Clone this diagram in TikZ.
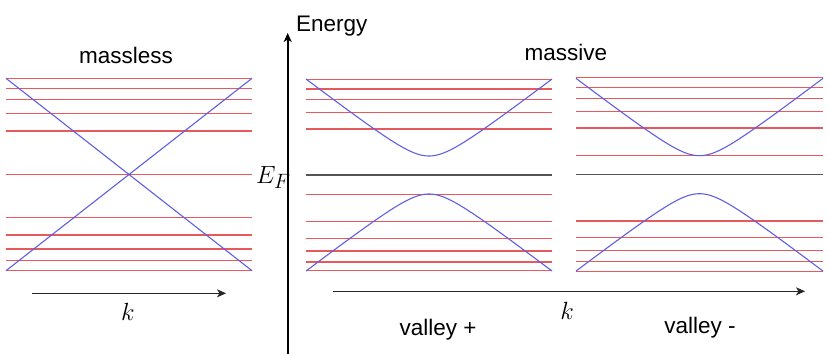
\documentclass[tikz,border=0pt]{standalone}
\usepackage{fontspec}
\setmainfont{Liberation Sans}
\usetikzlibrary{arrows.meta}
\definecolor{bandred}{RGB}{232,88,92}
\definecolor{dispblue}{RGB}{95,95,225}
\definecolor{fermigray}{RGB}{85,85,85}
\begin{document}
\begin{tikzpicture}[x=1pt,y=-1pt,
  band/.style={draw=bandred, line width=1.3pt},
  disp/.style={draw=dispblue, line width=1.1pt},
  fermi/.style={draw=fermigray, line width=1.3pt},
  lbl/.style={font=\fontsize{22.5}{27}\selectfont, anchor=base, inner sep=0pt},
  mlbl/.style={font=\fontsize{24.88}{29}\selectfont, anchor=base, inner sep=0pt},
  axisarrow/.style={-{Stealth[length=9pt,width=8pt,inset=2.5pt]}, line width=1pt, draw=black!85}]
\useasboundingbox (0,0) rectangle (830,354);

% massless panel
\foreach \y in {78.3,88.3,99.7,113.3,131,174.3,217.7,235,249,260.3,270.7}
  \draw[band] (6,\y) -- (252,\y);
\draw[disp] (6,78.3) -- (252,270.7);
\draw[disp] (252,78.3) -- (6,270.7);

% valley +
\foreach \y in {79.3,89,99.7,112.7,129,194.3,221.7,238.3,251,262,270.7}
  \draw[band] (306,\y) -- (552,\y);
\draw[fermi] (306,175) -- (552,175);
\draw[disp] plot[domain=-123:123, samples=121, smooth] ({429+\x},{175-sqrt(361+(0.765*\x)^2)});
\draw[disp] plot[domain=-123:123, samples=121, smooth] ({429+\x},{175+sqrt(361+(0.765*\x)^2)});

% valley -
\foreach \y in {77.7,87.3,98.7,111.7,128,155.7,221,237.7,250.7,261.7,271.3}
  \draw[band] (576,\y) -- (823,\y);
\draw[fermi] (576,174.7) -- (823,174.7);
\draw[disp] plot[domain=-123.5:123.5, samples=121, smooth] ({699.5+\x},{174.7-sqrt(361+(0.765*\x)^2)});
\draw[disp] plot[domain=-123.5:123.5, samples=121, smooth] ({699.5+\x},{174.7+sqrt(361+(0.765*\x)^2)});

% axes
\coordinate (eb) at (287.7,354);
\coordinate (et) at (287.7,33);
\draw[axisarrow, line width=1.7pt, draw=black] (eb) -- (et);
\coordinate (k1s) at (32,293.3);
\coordinate (k1e) at (226,293.3);
\draw[axisarrow] (k1s) -- (k1e);
\coordinate (k2s) at (333,291.3);
\coordinate (k2e) at (805,291.3);
\draw[axisarrow] (k2s) -- (k2e);

% labels
\node[lbl] (massless) at (126,63) {massless};
\node[lbl] (massive) at (566,60) {massive};
\node[lbl, anchor=base west] (energy) at (296,31) {Energy};
\node[lbl] (valp) at (438,335) {valley +};
\node[lbl] (valm) at (700,333) {valley -};
\node[mlbl] (k1) at (128,320) {$k$};
\node[mlbl] (k2) at (567,319) {$k$};
\node[mlbl, anchor=base west] (ef) at (256,183) {$E_F$};
\end{tikzpicture}
\end{document}
